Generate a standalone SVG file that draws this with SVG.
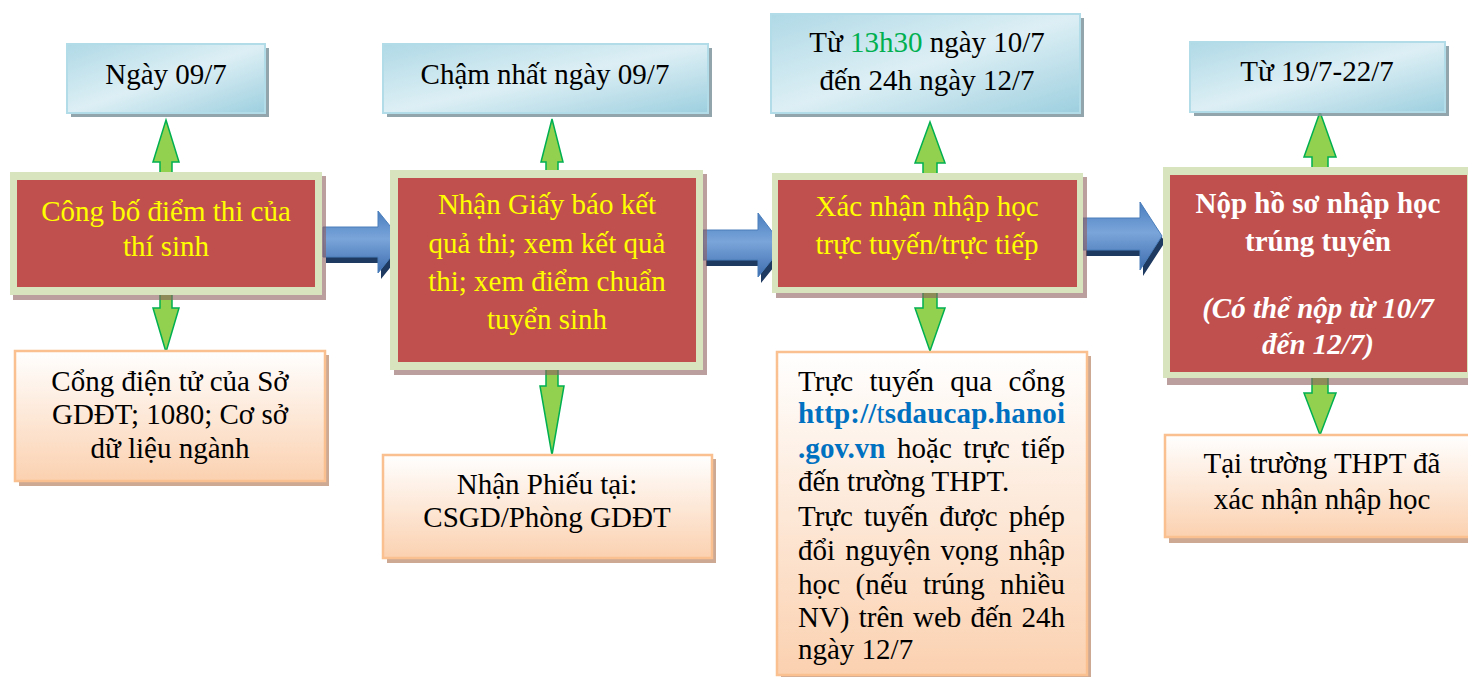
<svg xmlns="http://www.w3.org/2000/svg" width="1468" height="677" viewBox="0 0 1468 677">
<defs>
<linearGradient id="gBlue" x1="0" y1="0" x2="1" y2="1">
<stop offset="0" stop-color="#AFD9E6"/>
<stop offset="0.5" stop-color="#DDEFF5"/>
<stop offset="1" stop-color="#9DCFDF"/>
</linearGradient>
<linearGradient id="gPeach" x1="0" y1="0" x2="0" y2="1">
<stop offset="0" stop-color="#FFFFFF"/>
<stop offset="1" stop-color="#FBD1B0"/>
</linearGradient>
<linearGradient id="gArrow" x1="0" y1="0" x2="0" y2="1">
<stop offset="0" stop-color="#4A7EBF"/>
<stop offset="0.45" stop-color="#7AA5DA"/>
<stop offset="1" stop-color="#3D6CAE"/>
</linearGradient>
<style>
.bshadow{fill:#7F949E;opacity:0.85}
.bbox{fill:url(#gBlue);stroke:#B2DCE8;stroke-width:2}
.rshadow{fill:#8E5E5E;opacity:0.6}
.router{fill:#D7E4BD}
.rinner{fill:#C0504D}
.pshadow{fill:#C49A80;opacity:0.85}
.pbox{fill:url(#gPeach);stroke:#FAC08F;stroke-width:2.5}
.garrow{fill:#92D050;stroke:#00B050;stroke-width:1.5;stroke-linejoin:miter}
.barrow{fill:url(#gArrow);stroke:#4A7EBB;stroke-width:1}
.bashadow{fill:#1F3A60}
text{font-family:"Liberation Serif","Times New Roman",serif;font-size:29px;fill:#000}
.c{text-anchor:middle}
.yel{fill:#FFFF00}
.wh{fill:#FFFFFF;font-weight:bold}
.link{fill:#0070C0;font-weight:bold}
.thin{font-weight:normal}
</style>
</defs>

<g id="connectors">
<path class="garrow" d="M166,120 L179,162 L172,162 L172,175 L160,175 L160,162 L153,162 Z"/>
<path class="garrow" d="M166,352 L179,308 L172,308 L172,292 L160,292 L160,308 L153,308 Z"/>
<path class="garrow" d="M552,119 L563,162 L558,162 L558,172 L546,172 L546,162 L541,162 Z"/>
<path class="garrow" d="M552,455 L564,386 L558,386 L558,368 L546,368 L546,386 L540,386 Z"/>
<path class="garrow" d="M930,122 L945,163 L937,163 L937,175 L923,175 L923,163 L915,163 Z"/>
<path class="garrow" d="M930,351 L945,308 L937,308 L937,292 L923,292 L923,308 L915,308 Z"/>
<path class="garrow" d="M1320,112 L1336,157 L1328,157 L1328,169 L1312,169 L1312,157 L1304,157 Z"/>
<path class="garrow" d="M1320,435 L1336,393 L1328,393 L1328,376 L1312,376 L1312,393 L1304,393 Z"/>
<path class="bashadow" d="M326,233 L381,233 L381,217 L406,248 L381,279 L381,263 L326,263 Z"/>
<path class="barrow" d="M323,227 L378,227 L378,211 L403,242 L378,273 L378,257 L323,257 Z"/>
<path class="bashadow" d="M706,236 L761,236 L761,219 L786,252 L761,283 L761,266 L706,266 Z"/>
<path class="barrow" d="M703,230 L758,230 L758,213 L783,246 L758,277 L758,260 L703,260 Z"/>
<path class="bashadow" d="M1086,224 L1143,224 L1143,208 L1165,242 L1143,276 L1143,256 L1086,256 Z"/>
<path class="barrow" d="M1083,218 L1140,218 L1140,202 L1162,236 L1140,270 L1140,250 L1083,250 Z"/>
</g>

<g id="date1">
<rect class="bshadow" x="71" y="48" width="198" height="69"/>
<rect class="bbox" x="67" y="44" width="198" height="69"/>
<text class="c" x="166" y="84">Ngày 09/7</text>
</g>
<g id="step1">
<rect class="rshadow" x="13" y="176" width="313" height="124"/>
<rect class="router" x="10" y="172" width="312" height="123"/>
<rect class="rinner" x="17" y="180" width="298" height="107"/>
<text class="c yel" x="166" y="221">Công bố điểm thi của</text>
<text class="c yel" x="166" y="256">thí sinh</text>
</g>
<g id="where1">
<rect class="pshadow" x="19" y="355" width="310" height="131"/>
<rect class="pbox" x="15" y="351" width="310" height="130"/>
<text class="c" x="170" y="391">Cổng điện tử của Sở</text>
<text class="c" x="170" y="424">GDĐT; 1080; Cơ sở</text>
<text class="c" x="170" y="458">dữ liệu ngành</text>
</g>

<g id="date2">
<rect class="bshadow" x="387" y="48" width="325" height="69"/>
<rect class="bbox" x="383" y="44" width="325" height="69"/>
<text class="c" x="545" y="84">Chậm nhất ngày 09/7</text>
</g>
<g id="step2">
<rect class="rshadow" x="394" y="174" width="313" height="201"/>
<rect class="router" x="390" y="170" width="313" height="200"/>
<rect class="rinner" x="398" y="178" width="298" height="184"/>
<text class="c yel" x="547" y="214">Nhận Giấy báo kết</text>
<text class="c yel" x="547" y="253">quả thi; xem kết quả</text>
<text class="c yel" x="547" y="291">thi; xem điểm chuẩn</text>
<text class="c yel" x="547" y="329">tuyển sinh</text>
</g>
<g id="where2">
<rect class="pshadow" x="387" y="459" width="329" height="104"/>
<rect class="pbox" x="383" y="455" width="329" height="103"/>
<text class="c" x="547" y="494">Nhận Phiếu tại:</text>
<text class="c" x="547" y="527">CSGD/Phòng GDĐT</text>
</g>

<g id="date3">
<rect class="bshadow" x="775" y="18" width="309" height="99"/>
<rect class="bbox" x="771" y="14" width="309" height="99"/>
<text class="c" x="927" y="52">Từ <tspan fill="#00B050">13h30</tspan> ngày 10/7</text>
<text class="c" x="927" y="90">đến 24h ngày 12/7</text>
</g>
<g id="step3">
<rect class="rshadow" x="776" y="177" width="311" height="121"/>
<rect class="router" x="772" y="173" width="311" height="120"/>
<rect class="rinner" x="778" y="180" width="299" height="107"/>
<text class="c yel" x="927" y="216">Xác nhận nhập học</text>
<text class="c yel" x="927" y="254">trực tuyến/trực tiếp</text>
</g>
<g id="where3">
<rect class="pshadow" x="781" y="356" width="310" height="325"/>
<rect class="pbox" x="777" y="352" width="310" height="323"/>
<text x="798" y="391" word-spacing="9" textLength="267" lengthAdjust="spacing">Trực tuyến qua cổng</text>
<text class="link" x="798" y="423" textLength="267" lengthAdjust="spacing">http://<tspan class="thin">t</tspan>sdaucap.hanoi</text>
<text x="798" y="458" word-spacing="4" textLength="267" lengthAdjust="spacing"><tspan class="link">.gov.vn</tspan> hoặc trực tiếp</text>
<text x="798" y="491">đến trường THPT.</text>
<text x="798" y="526" word-spacing="4" textLength="267" lengthAdjust="spacing">Trực tuyến được phép</text>
<text x="798" y="560" word-spacing="3" textLength="267" lengthAdjust="spacing">đổi nguyện vọng nhập</text>
<text x="798" y="594" word-spacing="8" textLength="267" lengthAdjust="spacing">học (nếu trúng nhiều</text>
<text x="798" y="627" word-spacing="2" textLength="267" lengthAdjust="spacing">NV) trên web đến 24h</text>
<text x="798" y="659">ngày 12/7</text>
</g>

<g id="date4">
<rect class="bshadow" x="1194" y="46" width="255" height="70"/>
<rect class="bbox" x="1190" y="42" width="255" height="70"/>
<text class="c" x="1317" y="81">Từ 19/7-22/7</text>
</g>
<g id="step4">
<rect class="rshadow" x="1167" y="172" width="310" height="213"/>
<rect class="router" x="1163" y="167" width="310" height="211"/>
<rect class="rinner" x="1170" y="175" width="297" height="197"/>
<text class="c wh" x="1318" y="213">Nộp hồ sơ nhập học</text>
<text class="c wh" x="1318" y="251">trúng tuyển</text>
<text class="c wh" x="1318" y="318" font-style="italic">(Có thể nộp từ 10/7</text>
<text class="c wh" x="1318" y="354" font-style="italic">đến 12/7)</text>
</g>
<g id="where4">
<rect class="pshadow" x="1169" y="439" width="310" height="104"/>
<rect class="pbox" x="1165" y="435" width="310" height="102"/>
<text class="c" x="1322" y="473">Tại trường THPT đã</text>
<text class="c" x="1322" y="509">xác nhận nhập học</text>
</g>
</svg>
